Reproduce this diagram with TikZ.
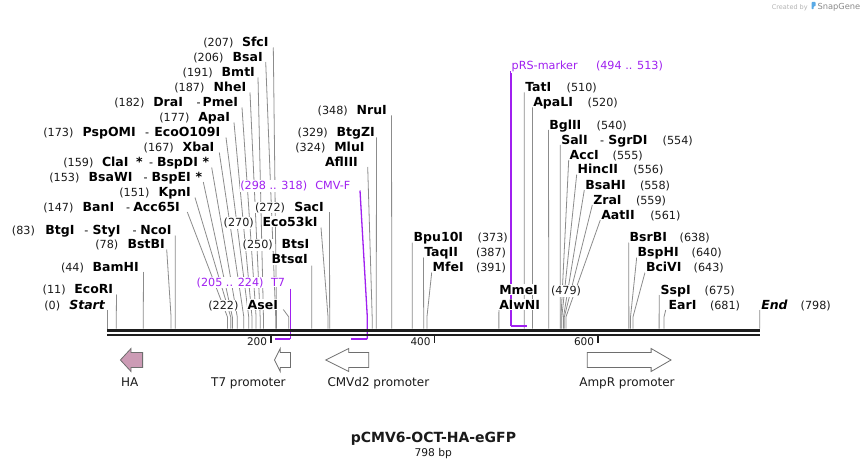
\documentclass[tikz,border=0pt]{standalone}
\usepackage{fontspec}
\setmainfont{DejaVu Sans}
\definecolor{numcol}{HTML}{1A1A1A}
\definecolor{linecol}{HTML}{8C8C8C}
\definecolor{primcol}{HTML}{A020F0}
\definecolor{bbcol}{HTML}{1E1E1E}
\definecolor{hacol}{HTML}{CC9BB5}
\definecolor{featline}{HTML}{6E6E6E}
\definecolor{wmgray}{HTML}{B4B4B4}
\definecolor{wmtext}{HTML}{8A8A8A}
\definecolor{wmblue}{HTML}{5AAAE6}
\newcommand\mkcut[4]{%
  \coordinate (#1t) at (#2,#3);
  \coordinate (#1b) at ({107.3+0.8175*#4},317);
  \coordinate (#1s) at ({107.3+0.8175*#4},328.5);
  \draw[cutline] (#1t) -- (#1b) -- (#1s);}
\begin{document}
\begin{tikzpicture}[x=1pt,y=-1pt,
  num/.style={font=\fontsize{11.2}{13}\selectfont,text=numcol,anchor=base west,fill=white,inner sep=0.8pt},
  enz/.style={font=\fontsize{12.5}{14}\selectfont\bfseries,anchor=base west,fill=white,inner sep=0.8pt},
  enzi/.style={enz,font=\fontsize{12.5}{14}\selectfont\bfseries\itshape},
  hy/.style={num,text=black},
  prl/.style={num,text=primcol},
  cutline/.style={draw=linecol,line width=0.8pt},
  primline/.style={draw=primcol,line width=1.3pt},
  primbar/.style={draw=primcol,line width=2.6pt},
  tick/.style={draw=bbcol,line width=1.6pt},
  ticklbl/.style={font=\fontsize{10.5}{12}\selectfont,anchor=base east,inner sep=0pt,text=numcol},
  feat/.style={draw=featline,line width=0.8pt,fill=white},
  featlbl/.style={font=\fontsize{12}{14}\selectfont,anchor=base west,inner sep=0pt,text=numcol},
]
\fill[white] (0,0) rectangle (868,468);
\useasboundingbox (0,0) rectangle (868,468);

% ---------- cut-site connectors ----------
\mkcut{cSfcI}{273.3}{47.5}{207}
\mkcut{cBsaI}{265.7}{62}{206}
\mkcut{cBmtI}{258}{77.5}{191}
\mkcut{cNheI}{250}{92.5}{187}
\mkcut{cDraI}{242}{107.5}{182}
\mkcut{cApaI}{234}{122.5}{177}
\mkcut{cPspOMI}{226}{137.5}{173}
\mkcut{cXbaI}{219.3}{152.5}{167}
\mkcut{cClaI}{211.7}{167.5}{159}
\mkcut{cBsaWI}{203.3}{182}{153}
\mkcut{cKpnI}{195}{197.5}{151}
\mkcut{cBanI}{187.3}{212}{147}
\mkcut{cBtgI}{175.3}{235.5}{83}
\mkcut{cBstBI}{166.7}{249.5}{78}
\mkcut{cBamHI}{143.5}{272}{44}
\mkcut{cEcoRI}{116.5}{294.5}{11}
\mkcut{cStart}{107.3}{310}{0}
\mkcut{cAseI}{283.3}{309.5}{222}
\mkcut{cBtsI}{311.7}{265.5}{250}
\mkcut{cSacI}{329.5}{212}{272}
\mkcut{cEco53kI}{321}{227.5}{270}
\mkcut{cNruI}{391.5}{115.5}{348}
\mkcut{cBtgZI}{376.5}{137.5}{329}
\mkcut{cMluI}{367.7}{167}{324}
\mkcut{cBpu}{412.2}{242.5}{373}
\mkcut{cTaqII}{423.5}{257.5}{387}
\mkcut{cMfeI}{431.7}{272.5}{391}
\mkcut{cMmeI}{498.9}{310}{479}
\mkcut{cTatI}{524.3}{92.5}{510}
\mkcut{cApaLI}{532.5}{107.5}{520}
\mkcut{cBglII}{548.5}{130}{540}
\mkcut{cSalI}{560.3}{145}{554}
\mkcut{cAccI}{568.7}{160}{555}
\mkcut{cHincII}{576.7}{174.5}{556}
\mkcut{cBsaHI}{584.3}{190}{558}
\mkcut{cZraI}{592.3}{205}{559}
\mkcut{cAatII}{600.3}{220}{561}
\mkcut{cBsrBI}{628.7}{242.5}{638}
\mkcut{cBspHI}{636.7}{257.5}{640}
\mkcut{cBciVI}{645}{272.5}{643}
\mkcut{cSspI}{659.3}{295}{675}
\mkcut{cEarI}{665.7}{310}{681}
\mkcut{cEnd}{759.7}{310}{798}

% ---------- primers ----------
\coordinate (t7a) at (290.4,288.5);
\coordinate (t7b) at (290.4,339);
\coordinate (t7c) at (274.9,339);
\draw[primline] (t7a) -- (t7b);
\draw[primbar] (t7b) -- (t7c);
\coordinate (cmva) at (360,190.5);
\coordinate (cmvb) at (367.3,317);
\coordinate (cmvc) at (367.3,339);
\coordinate (cmvd) at (350.9,339);
\draw[primline] (cmva) -- (cmvb) -- (cmvc);
\draw[primbar] (cmvc) -- (cmvd);
\coordinate (prsa) at (511.1,71);
\coordinate (prsb) at (511.1,326);
\coordinate (prsc) at (526.7,326);
\draw[primline] (prsa) -- (prsb);
\draw[primbar] (prsb) -- (prsc);

% ---------- backbone ----------
\coordinate (bbL) at (107.3,330);
\coordinate (bbR) at (759.7,330);
\draw[bbcol,line width=3pt] (bbL) -- (bbR);
\coordinate (bbL2) at (107.3,335);
\coordinate (bbR2) at (759.7,335);
\draw[bbcol,line width=2pt] (bbL2) -- (bbR2);
\coordinate (k200) at (270.8,336); \coordinate (k200e) at (270.8,343);
\draw[tick] (k200) -- (k200e);
\coordinate (k400) at (434.3,336); \coordinate (k400e) at (434.3,343);
\draw[tick] (k400) -- (k400e);
\coordinate (k600) at (597.8,336); \coordinate (k600e) at (597.8,343);
\draw[tick] (k600) -- (k600e);
\node[ticklbl] (l200) at (267.3,345.6) {200};
\node[ticklbl] (l400) at (430.8,345.6) {400};
\node[ticklbl] (l600) at (594.3,345.6) {600};

% ---------- left labels ----------
\node[num] (n207) at (202.3,46.7) {(207)};
\node[enz] (eSfcI) at (241,46.7) {SfcI};
\node[num] (n206) at (192.3,61.1) {(206)};
\node[enz] (eBsaI) at (231.7,61.1) {BsaI};
\node[num] (n191) at (181.7,76.7) {(191)};
\node[enz] (eBmtI) at (220.7,76.7) {BmtI};
\node[num] (n187) at (173.3,91.7) {(187)};
\node[enz] (eNheI) at (212.7,91.7) {NheI};
\node[num] (n182) at (113.3,106.4) {(182)};
\node[enz] (eDraI) at (152.3,106.4) {DraI};
\node[hy] (h182) at (195.7,106.4) {-};
\node[enz] (ePmeI) at (201.7,106.4) {PmeI};
\node[num] (n177) at (158.3,121.7) {(177)};
\node[enz] (eApaI) at (197.3,121.7) {ApaI};
\node[num] (n173) at (42.3,136.4) {(173)};
\node[enz] (ePspOMI) at (81.7,136.4) {PspOMI};
\node[hy] (h173) at (144,136.4) {-};
\node[enz] (eEcoO) at (153.3,136.4) {EcoO109I};
\node[num] (n167) at (142.7,151.7) {(167)};
\node[enz] (eXbaI) at (181.7,151.7) {XbaI};
\node[num] (n159) at (62.3,166.4) {(159)};
\node[enz] (eClaI) at (101,166.4) {ClaI};
\node[enz] (s159a) at (135,166.4) {*};
\node[hy] (h159) at (148,166.4) {-};
\node[enz] (eBspDI) at (156,166.4) {BspDI};
\node[enz] (s159b) at (201.7,166.4) {*};
\node[num] (n153) at (48.3,181.1) {(153)};
\node[enz] (eBsaWI) at (87.7,181.1) {BsaWI};
\node[hy] (h153) at (142.7,181.1) {-};
\node[enz] (eBspEI) at (150.7,181.1) {BspEI};
\node[enz] (s153) at (194.7,181.1) {*};
\node[num] (n151) at (118.3,196.7) {(151)};
\node[enz] (eKpnI) at (157.7,196.7) {KpnI};
\node[num] (n147) at (42.3,211.1) {(147)};
\node[enz] (eBanI) at (81.7,211.1) {BanI};
\node[hy] (h147) at (125,211.1) {-};
\node[enz] (eAcc65I) at (132.3,211.1) {Acc65I};
\node[num] (n83) at (11,234.4) {(83)};
\node[enz] (eBtgI) at (44.3,234.4) {BtgI};
\node[hy] (h83a) at (83.3,234.4) {-};
\node[enz] (eStyI) at (91.7,234.4) {StyI};
\node[hy] (h83b) at (131.7,234.4) {-};
\node[enz] (eNcoI) at (139.3,234.4) {NcoI};
\node[num] (n78) at (94.3,248.7) {(78)};
\node[enz] (eBstBI) at (126.7,248.7) {BstBI};
\node[num] (n44) at (60,271.1) {(44)};
\node[enz] (eBamHI) at (91.7,271.1) {BamHI};
\node[num] (n11) at (41.7,293.7) {(11)};
\node[enz] (eEcoRI) at (73.3,293.7) {EcoRI};
\node[num] (n0) at (43.3,309.1) {(0)};
\node[enzi] (eStart) at (68.3,309.1) {Start};

% ---------- centre labels ----------
\node[num] (n222) at (207.3,309.1) {(222)};
\node[enz] (eAseI) at (246.7,309.1) {AseI};
\node[num] (n250) at (241.7,248.7) {(250)};
\node[enz] (eBtsI) at (280.7,248.7) {BtsI};
\node[enz] (eBtsa) at (270.7,263.7) {BtsαI};
\node[num] (n272) at (254,211.1) {(272)};
\node[enz] (eSacI) at (293.3,211.1) {SacI};
\node[num] (n270) at (222.7,226.4) {(270)};
\node[enz] (eEco53kI) at (261.7,226.4) {Eco53kI};
\node[num] (n348) at (316.7,114.4) {(348)};
\node[enz] (eNruI) at (355.7,114.4) {NruI};
\node[num] (n329) at (296.7,136.7) {(329)};
\node[enz] (eBtgZI) at (335.7,136.7) {BtgZI};
\node[num] (n324) at (294.3,151.4) {(324)};
\node[enz] (eMluI) at (333.3,151.4) {MluI};
\node[enz] (eAflIII) at (324,166.1) {AflIII};
\node[prl] (pT7n) at (195.7,286.1) {(205 .. 224)};
\node[prl] (pT7) at (270,286.1) {T7};
\node[prl] (pCMVn) at (239.3,189.4) {(298 .. 318)};
\node[prl] (pCMV) at (314.3,189.4) {CMV-F};
\node[prl] (pRS) at (510.7,69.4) {pRS-marker};
\node[prl] (pRSn) at (595,69.4) {(494 .. 513)};

% ---------- right labels ----------
\node[enz] (eBpu) at (412.7,241.7) {Bpu10I};
\node[num] (n373) at (476.7,241.7) {(373)};
\node[enz] (eTaqII) at (423.3,256.7) {TaqII};
\node[num] (n387) at (475,256.7) {(387)};
\node[enz] (eMfeI) at (431.7,271.7) {MfeI};
\node[num] (n391) at (475,271.7) {(391)};
\node[enz] (eMmeI) at (498.3,294.4) {MmeI};
\node[num] (n479) at (550,294.4) {(479)};
\node[enz] (eAlwNI) at (498.3,309.4) {AlwNI};
\node[enz] (eTatI) at (524.3,91.7) {TatI};
\node[num] (n510) at (565.7,91.7) {(510)};
\node[enz] (eApaLI) at (532.3,106.7) {ApaLI};
\node[num] (n520) at (586.7,106.7) {(520)};
\node[enz] (eBglII) at (548.3,129.4) {BglII};
\node[num] (n540) at (595.7,129.4) {(540)};
\node[enz] (eSalI) at (560.3,144.4) {SalI};
\node[hy] (h554) at (599,144.4) {-};
\node[enz] (eSgrDI) at (607.3,144.4) {SgrDI};
\node[num] (n554) at (661.7,144.4) {(554)};
\node[enz] (eAccI) at (568.7,159.4) {AccI};
\node[num] (n555) at (611.7,159.4) {(555)};
\node[enz] (eHincII) at (576.7,173.7) {HincII};
\node[num] (n556) at (632.3,173.7) {(556)};
\node[enz] (eBsaHI) at (584.3,189.4) {BsaHI};
\node[num] (n558) at (639,189.4) {(558)};
\node[enz] (eZraI) at (592.3,204.4) {ZraI};
\node[num] (n559) at (635,204.4) {(559)};
\node[enz] (eAatII) at (600.3,219.4) {AatII};
\node[num] (n561) at (649.3,219.4) {(561)};
\node[enz] (eBsrBI) at (628.7,241.7) {BsrBI};
\node[num] (n638) at (678.7,241.7) {(638)};
\node[enz] (eBspHI) at (636.7,256.7) {BspHI};
\node[num] (n640) at (690.7,256.7) {(640)};
\node[enz] (eBciVI) at (645,271.7) {BciVI};
\node[num] (n643) at (692.7,271.7) {(643)};
\node[enz] (eSspI) at (659.7,294.4) {SspI};
\node[num] (n675) at (703.7,294.4) {(675)};
\node[enz] (eEarI) at (667.7,309.4) {EarI};
\node[num] (n681) at (709,309.4) {(681)};
\node[enzi] (eEnd) at (760.3,309.4) {End};
\node[num] (n798) at (799.7,309.4) {(798)};

% ---------- features ----------
\draw[feat,fill=hacol] (120.4,360) -- (131,348.5) -- (131,352.5) -- (142.6,352.5) -- (142.6,367.5) -- (131,367.5) -- (131,371.5) -- cycle;
\draw[feat] (274.5,360) -- (280.3,348.5) -- (280.3,352.5) -- (290.5,352.5) -- (290.5,367.5) -- (280.3,367.5) -- (280.3,371.5) -- cycle;
\draw[feat] (325.8,360) -- (348.8,348.5) -- (348.8,352.5) -- (368.7,352.5) -- (368.7,367.5) -- (348.8,367.5) -- (348.8,371.5) -- cycle;
\draw[feat] (587.2,352.5) -- (651.1,352.5) -- (651.1,348.5) -- (671,360) -- (651.1,371.5) -- (651.1,367.5) -- (587.2,367.5) -- cycle;
\node[featlbl] (fHA) at (121,386.4) {HA};
\node[featlbl] (fT7) at (211,386.4) {T7 promoter};
\node[featlbl] (fCMV) at (327.3,386.4) {CMVd2 promoter};
\node[featlbl] (fAmp) at (579.1,386.4) {AmpR promoter};

% ---------- title ----------
\node[font=\fontsize{14}{16}\selectfont\bfseries,anchor=base,inner sep=0pt,text=numcol] (title) at (433.4,442.4) {pCMV6-OCT-HA-eGFP};
\node[font=\fontsize{10.7}{12}\selectfont,anchor=base,inner sep=0pt,text=numcol] (bp) at (433.3,456.5) {798 bp};

% ---------- watermark ----------
\node[font=\fontsize{6.5}{8}\selectfont,text=wmgray,anchor=base west,inner sep=0pt] (wm1) at (771.7,9.5) {Created by};
\fill[wmblue,rounded corners=0.8pt] (811.5,2) -- (815.6,2) -- (815.6,6.2) -- (813.6,6.2) -- (813.6,9.2) -- (811.5,9.2) -- cycle;
\node[font=\fontsize{8.3}{9}\selectfont,text=wmtext,anchor=base west,inner sep=0pt] (wm2) at (817.3,10) {SnapGene};
\end{tikzpicture}
\end{document}
